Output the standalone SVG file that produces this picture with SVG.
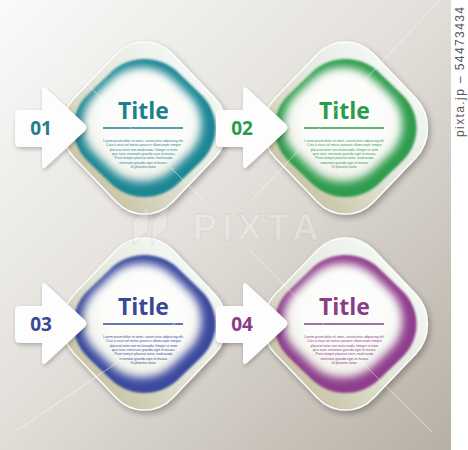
<svg xmlns="http://www.w3.org/2000/svg" width="468" height="450" viewBox="0 0 468 450">
<defs>
  <linearGradient id="bg" x1="0" y1="0" x2="1" y2="1">
    <stop offset="0" stop-color="#fafaf9"/>
    <stop offset="0.45" stop-color="#e4e1dc"/>
    <stop offset="1" stop-color="#b6aea3"/>
  </linearGradient>
  <linearGradient id="og" x1="0" y1="0" x2="0" y2="1">
    <stop offset="0" stop-color="#f3f7f3"/>
    <stop offset="0.5" stop-color="#e3e7da"/>
    <stop offset="1" stop-color="#cbc6a9"/>
  </linearGradient>
  <radialGradient id="wc" cx="0.45" cy="0.4" r="0.62">
    <stop offset="0" stop-color="#ffffff"/>
    <stop offset="0.65" stop-color="#fbfcf9"/>
    <stop offset="1" stop-color="#eff1e9"/>
  </radialGradient>
  <filter id="sh" x="-20%" y="-20%" width="140%" height="140%">
    <feGaussianBlur in="SourceAlpha" stdDeviation="3"/>
    <feOffset dx="2" dy="3"/>
    <feComponentTransfer><feFuncA type="linear" slope="0.3"/></feComponentTransfer>
    <feMerge><feMergeNode/><feMergeNode in="SourceGraphic"/></feMerge>
  </filter>
  <filter id="ash" x="-20%" y="-20%" width="140%" height="140%">
    <feGaussianBlur in="SourceAlpha" stdDeviation="2"/>
    <feOffset dx="1" dy="2"/>
    <feComponentTransfer><feFuncA type="linear" slope="0.25"/></feComponentTransfer>
    <feMerge><feMergeNode/><feMergeNode in="SourceGraphic"/></feMerge>
  </filter>
  <filter id="b1" x="-20%" y="-20%" width="140%" height="140%"><feGaussianBlur stdDeviation="1.2"/></filter>
  <filter id="b5" x="-30%" y="-30%" width="160%" height="160%"><feGaussianBlur stdDeviation="4.5"/></filter>
  <rect id="outer" x="-69.7" y="-69.7" width="139.4" height="139.4" rx="40" transform="scale(1,1.05) rotate(45)"/>
  <rect id="ring" x="-64.3" y="-64.3" width="128.6" height="128.6" rx="48" transform="scale(1,0.97) rotate(45)"/>
  <rect id="core" x="-55" y="-55" width="110" height="110" rx="44" transform="scale(1,0.96) rotate(45)"/>
  <path id="arrow" d="M20,110 L42,110 L42,90.5 Q42,84.5 46.4,88.6 L84.5,123.8 Q88.5,127.5 84.5,131.2 L46.4,166.4 Q42,170.5 42,164.5 L42,147 L20,147 Q15,147 15,142 L15,115 Q15,110 20,110 Z"/>
  <g id="lorem">
    <text x="143.5" y="142">Lorem ipsum dolor sit amet, consectetur adipiscing elit.</text>
    <text x="143.5" y="146.3">Cras a risus vel metus posuere ullamcorper tempor</text>
    <text x="143.5" y="150.6">placerat tortor non malesuada. Integer ut enim</text>
    <text x="143.5" y="155">quis nunc venenatis gravida eget et massa.</text>
    <text x="143.5" y="159.3">Proin tempor placerat tortor, malesuada</text>
    <text x="143.5" y="163.6">venenatis gravida eget et massa.</text>
    <text x="143.5" y="168">Ut pharetra tortor.</text>
  </g>
</defs>
<style>
  .title{font-family:"Open Sans","Liberation Sans",sans-serif;font-weight:700;font-size:23px;text-anchor:middle}
  .num{font-family:"Open Sans","Liberation Sans",sans-serif;font-weight:700;font-size:19px;text-anchor:middle}
  .lorem{font-family:"Liberation Sans",Arial,sans-serif;font-size:3.3px;text-anchor:middle}
  .wm{stroke:#ffffff;stroke-width:0.7;stroke-opacity:0.7;fill:none}
</style>

<rect x="0" y="0" width="468" height="450" fill="url(#bg)"/>
<rect x="451" y="0" width="17" height="450" fill="#ffffff"/>

<g id="module-1">
  <use href="#outer" transform="translate(144.5,128)" fill="url(#og)" stroke="#ffffff" stroke-width="1.3" filter="url(#sh)"/>
  <use href="#ring" transform="translate(144.5,128)" fill="#1f8694" filter="url(#b1)"/>
  <use href="#core" transform="translate(142,124.5)" fill="url(#wc)" filter="url(#b5)"/>
  <text class="title" x="143.5" y="119" fill="#1f7f8d">Title</text>
  <line x1="103" y1="128" x2="183" y2="128" stroke="#1f7f8d" stroke-width="1.5"/>
  <use href="#lorem" class="lorem" fill="#1f7f8d"/>
  <use href="#arrow" fill="#fdfdfd" filter="url(#ash)"/>
  <text class="num" x="41" y="135" fill="#1f7f8d">01</text>
</g>

<g id="module-2" transform="translate(201,0)">
  <use href="#outer" transform="translate(144.5,128)" fill="url(#og)" stroke="#ffffff" stroke-width="1.3" filter="url(#sh)"/>
  <use href="#ring" transform="translate(144.5,128)" fill="#2d9c4d" filter="url(#b1)"/>
  <use href="#core" transform="translate(142,124.5)" fill="url(#wc)" filter="url(#b5)"/>
  <text class="title" x="143.5" y="119" fill="#2a9a4b">Title</text>
  <line x1="103" y1="128" x2="183" y2="128" stroke="#2a9a4b" stroke-width="1.5"/>
  <use href="#lorem" class="lorem" fill="#2a9a4b"/>
  <use href="#arrow" fill="#fdfdfd" filter="url(#ash)"/>
  <text class="num" x="41" y="135" fill="#2a9a4b">02</text>
</g>

<g id="module-3" transform="translate(0,196)">
  <use href="#outer" transform="translate(144.5,128)" fill="url(#og)" stroke="#ffffff" stroke-width="1.3" filter="url(#sh)"/>
  <use href="#ring" transform="translate(144.5,128)" fill="#3b4a9e" filter="url(#b1)"/>
  <use href="#core" transform="translate(142,124.5)" fill="url(#wc)" filter="url(#b5)"/>
  <text class="title" x="143.5" y="119" fill="#394896">Title</text>
  <line x1="103" y1="128" x2="183" y2="128" stroke="#394896" stroke-width="1.5"/>
  <use href="#lorem" class="lorem" fill="#394896"/>
  <use href="#arrow" fill="#fdfdfd" filter="url(#ash)"/>
  <text class="num" x="41" y="135" fill="#394896">03</text>
</g>

<g id="module-4" transform="translate(201,196)">
  <use href="#outer" transform="translate(144.5,128)" fill="url(#og)" stroke="#ffffff" stroke-width="1.3" filter="url(#sh)"/>
  <use href="#ring" transform="translate(144.5,128)" fill="#8e3e8b" filter="url(#b1)"/>
  <use href="#core" transform="translate(142,124.5)" fill="url(#wc)" filter="url(#b5)"/>
  <text class="title" x="143.5" y="119" fill="#8a3c86">Title</text>
  <line x1="103" y1="128" x2="183" y2="128" stroke="#8a3c86" stroke-width="1.5"/>
  <use href="#lorem" class="lorem" fill="#8a3c86"/>
  <use href="#arrow" fill="#fdfdfd" filter="url(#ash)"/>
  <text class="num" x="41" y="135" fill="#8a3c86">04</text>
</g>

<g id="connectors"/>

<g id="watermark">
  <line class="wm" x1="30" y1="27" x2="205" y2="202"/>
  <line class="wm" x1="440" y1="0" x2="252" y2="200"/>
  <line class="wm" x1="190" y1="313" x2="18" y2="430"/>
  <line class="wm" x1="250" y1="251" x2="432" y2="432"/>
  <path d="M133,245 L133,222 L148,207 L148,230 Z M152,245 L152,222 L167,207 L167,228 L158,236 Z" fill="#ffffff" fill-opacity="0.2" stroke="#c9c5bf" stroke-opacity="0.5" stroke-width="0.8"/>
  <text x="258" y="240" text-anchor="middle" font-family="Liberation Sans, Arial, sans-serif" font-weight="700" font-size="37" letter-spacing="5" fill="#ffffff" fill-opacity="0.25" stroke="#c9c5bf" stroke-opacity="0.5" stroke-width="0.8">PIXTA</text>
  <text transform="translate(464,137) rotate(-90)" font-family="Liberation Sans, Arial, sans-serif" font-size="12" fill="#555555" textLength="130">pixta.jp – 54473434</text>
</g>
</svg>
